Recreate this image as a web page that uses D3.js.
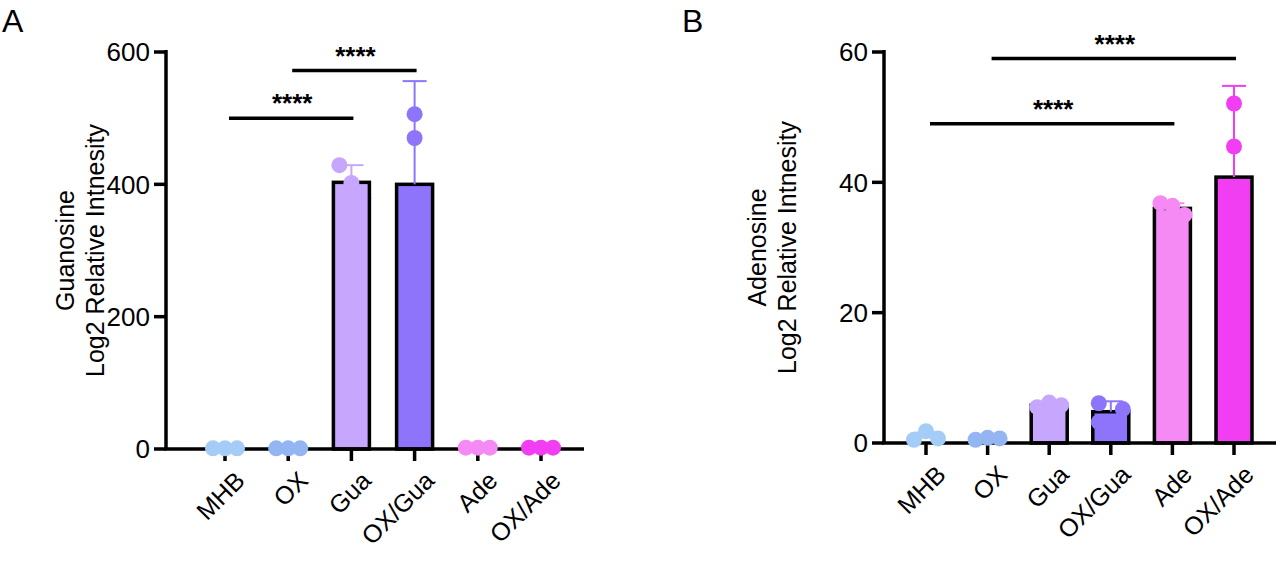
<!DOCTYPE html>
<html><head><meta charset="utf-8">
<script src="https://cdn.jsdelivr.net/npm/d3@7"></script>
<style>body{margin:0;background:#fff}text{font-family:"Liberation Sans",Arial,sans-serif}</style>
</head><body><svg id="c" width="1280" height="566"></svg>
<script>
const categories = ["MHB","OX","Gua","OX/Gua","Ade","OX/Ade"];
const colors = ["#a3cdf6","#93b6f2","#c7a6fd","#8e74fb","#f58af5","#f23ef2"];
const guaMeans = [1,1,403,400,2,2];
const guaSD = [0,0,26,156,0,0];
const guaPoints = [[1,1,1],[1,1,1],[429,402,379],[506,470,224],[2,2,2],[2,2,2]];
const adeMeans = [1,0.7,5.8,4.8,36,40.8];
const adeSD = [0.6,0.2,0.3,1.6,0.8,14];
const adePoints = [[0.5,1.8,0.7],[0.5,0.8,0.7],[5.5,6.2,5.8],[6.1,5.2,3.2],[36.8,36.4,35],[52.1,45.5,25.4]];
const guaTicks = [0,200,400,600];
const adeTicks = [0,20,40,60];
const guaSig = [["MHB","Gua",500],["OX","OX/Gua",572]];
const adeSig = [["MHB","Ade",49],["OX","OX/Ade",59]];

const svg = d3.select("#c");
function panel(o){
  const g = svg.append("g");
  const x = d3.scalePoint().domain(categories).range([o.x0,o.x1]);
  const y = d3.scaleLinear().domain([0,o.max]).range([o.y0,o.ytop]);
  const bw = 36;
  const offs = o.offs;
  const drawPts=(below)=>categories.forEach((c,i)=>{
    o.points[i].forEach((v,j)=>{
      const hidden = y(v) > y(o.means[i]) + 12;
      if(hidden!==below) return;
      g.append("circle").attr("cx",x(c)+offs[i][j]).attr("cy",y(v)).attr("r",8).attr("fill",colors[i]);
    });
  });
  g.append("line").attr("x1",o.ax).attr("x2",o.ax).attr("y1",o.y0).attr("y2",y(o.max)-2).attr("stroke","#000").attr("stroke-width",3.5);
  o.ticks.forEach(t=>{
    g.append("line").attr("x1",o.ax-12).attr("x2",o.ax).attr("y1",y(t)).attr("y2",y(t)).attr("stroke","#000").attr("stroke-width",3.5);
    g.append("text").attr("x",o.ax-16).attr("y",y(t)).attr("dy","0.36em").attr("text-anchor","end").attr("font-size",26).text(t);
  });
  drawPts(true);
  categories.forEach((c,i)=>{
    const cx = x(c);
    const top = y(o.means[i]);
    if(o.means[i]>o.max*0.02){
      g.append("rect").attr("x",cx-bw/2).attr("y",top).attr("width",bw).attr("height",o.y0-top)
        .attr("fill",colors[i]).attr("stroke","#000").attr("stroke-width",3.5);
    }
    if(o.sd[i]>0){
      const ye=y(o.means[i]+o.sd[i]);
      g.append("line").attr("x1",cx).attr("x2",cx).attr("y1",top).attr("y2",ye).attr("stroke",colors[i]).attr("stroke-width",2);
      g.append("line").attr("x1",cx-12).attr("x2",cx+12).attr("y1",ye).attr("y2",ye).attr("stroke",colors[i]).attr("stroke-width",2);
    }
  });
  g.append("line").attr("x1",o.ax-2).attr("x2",o.xend).attr("y1",o.y0).attr("y2",o.y0).attr("stroke","#000").attr("stroke-width",3.5);
  categories.forEach((c,i)=>{
    const cx=x(c);
    g.append("line").attr("x1",cx).attr("x2",cx).attr("y1",o.y0).attr("y2",o.y0+12).attr("stroke","#000").attr("stroke-width",3.5);
    g.append("text").attr("transform",`translate(${cx+8},${o.y0+20}) rotate(-45)`).attr("text-anchor","end").attr("dy","0.75em").attr("font-size",25).text(c);
  });
  drawPts(false);
  o.sig.forEach(([a,b,v])=>{
    const yy=y(v);
    g.append("line").attr("x1",x(a)+4).attr("x2",x(b)+2).attr("y1",yy).attr("y2",yy).attr("stroke","#000").attr("stroke-width",3.5);
    g.append("text").attr("x",(x(a)+x(b))/2+4).attr("y",yy-6).attr("text-anchor","middle").attr("font-size",26).attr("font-weight","bold").text("****");
  });
  const t=g.append("text").attr("transform",`translate(${o.titleX},${(o.y0+y(o.max))/2}) rotate(-90)`).attr("text-anchor","middle").attr("font-size",25);
  t.append("tspan").attr("x",0).attr("dy",0).text(o.title);
  t.append("tspan").attr("x",0).attr("dy","1.2em").text("Log2 Relative Intnesity");
  svg.append("text").attr("x",o.letterX).attr("y",32).attr("font-size",32).text(o.letter);
}
const offA=[[-12,0,12],[-12,0,12],[-12,0,12],[0,0,0],[-12,0,12],[-12,0,12]];
const offB=[[-12,0,12],[-12,0,12],[-12,0,12],[-12,12,-12],[-12,0,12],[0,0,0]];
panel({x0:225,x1:541,y0:449,ytop:52,max:600,ax:166,xend:584,ticks:guaTicks,means:guaMeans,sd:guaSD,points:guaPoints,sig:guaSig,title:"Guanosine",titleX:74,letter:"A",letterX:2,offs:offA});
panel({x0:926,x1:1234,y0:443,ytop:52,max:60,ax:884,xend:1276,ticks:adeTicks,means:adeMeans,sd:adeSD,points:adePoints,sig:adeSig,title:"Adenosine",titleX:766,letter:"B",letterX:682,offs:offB});
</script></body></html>
